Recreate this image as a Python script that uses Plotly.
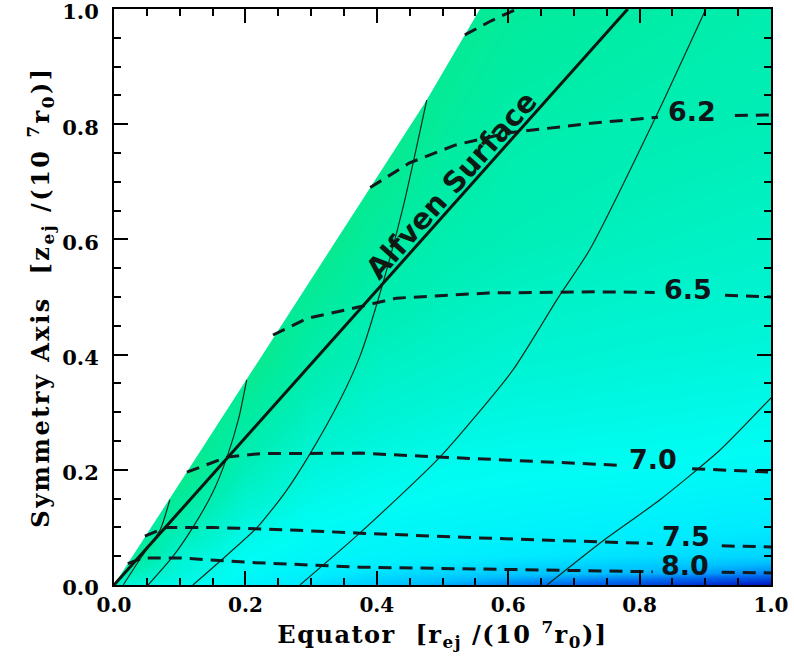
import plotly.graph_objects as go

# ---------------- data ----------------
# colour field (shade index 0..1) on a coarse grid
grid_x = [0.0, 0.1, 0.2, 0.3, 0.4, 0.5, 0.6, 0.8, 1.0]
grid_z = [0.0, 0.02, 0.05, 0.1, 0.2, 0.4, 0.6, 0.8, 1.0]
shade = [
    [0.50, 0.58, 0.66, 0.72, 0.76, 0.80, 0.84, 0.92, 1.00],
    [0.30, 0.52, 0.63, 0.68, 0.72, 0.74, 0.76, 0.79, 0.84],
    [0.00, 0.48, 0.61, 0.65, 0.66, 0.68, 0.70, 0.72, 0.74],
    [0.00, 0.30, 0.55, 0.62, 0.64, 0.65, 0.66, 0.68, 0.70],
    [0.00, 0.00, 0.35, 0.52, 0.57, 0.60, 0.61, 0.62, 0.64],
    [0.00, 0.00, 0.00, 0.25, 0.38, 0.43, 0.47, 0.50, 0.52],
    [0.00, 0.00, 0.00, 0.00, 0.18, 0.28, 0.33, 0.38, 0.42],
    [0.00, 0.00, 0.00, 0.00, 0.00, 0.15, 0.25, 0.30, 0.33],
    [0.00, 0.00, 0.00, 0.00, 0.00, 0.05, 0.15, 0.22, 0.28],
]

# edge of the computed domain (wedge)
edge_x = [0.0, 0.476, 0.557]
edge_z = [0.0, 0.842, 1.0]

# Alfven surface
alfven_x = [0.0, 0.782]
alfven_z = [0.0, 1.0]

# thin solid (field) lines
field_lines = [
    ([0.014, 0.042, 0.070, 0.085], [0.0, 0.049, 0.095, 0.148]),
    ([0.052, 0.09, 0.12, 0.15, 0.172, 0.19, 0.202], [0.0, 0.05, 0.10, 0.16, 0.222, 0.29, 0.356]),
    ([0.12, 0.17, 0.218, 0.26, 0.299, 0.344, 0.374, 0.405, 0.44, 0.476],
     [0.0, 0.05, 0.10, 0.16, 0.229, 0.321, 0.396, 0.507, 0.656, 0.842]),
    ([0.283, 0.374, 0.496, 0.607, 0.674, 0.724, 0.826, 0.90],
     [0.0, 0.09, 0.222, 0.373, 0.495, 0.582, 0.816, 0.998]),
    ([0.659, 0.74, 0.831, 0.922, 1.0], [0.0, 0.073, 0.148, 0.234, 0.325]),
]

# dashed contours: (label, x, z) ; None marks the gap for the label
contour_levels = ["6.0", "6.2", "6.5", "7.0", "7.5", "8.0"]
contour_x = [
    [0.534, 0.575, 0.613],
    [0.39, 0.45, 0.52, 0.60, 0.73, 0.828, None, 0.945, 1.0],
    [0.242, 0.294, 0.374, 0.43, 0.57, 0.735, 0.823, None, 0.93, 1.0],
    [0.111, 0.172, 0.222, 0.374, 0.50, 0.735, 0.767, None, 0.88, 1.0],
    [0.047, 0.08, 0.15, 0.28, 0.374, 0.55, 0.735, 0.82, None, 0.925, 1.0],
    [0.021, 0.044, 0.10, 0.21, 0.374, 0.735, 0.82, None, 0.925, 1.0],
]
contour_z = [
    [0.955, 0.98, 1.0],
    [0.69, 0.733, 0.764, 0.785, 0.802, 0.812, None, 0.815, 0.816],
    [0.434, 0.463, 0.483, 0.498, 0.507, 0.509, 0.508, None, 0.503, 0.50],
    [0.196, 0.222, 0.228, 0.229, 0.222, 0.21, 0.208, None, 0.202, 0.196],
    [0.085, 0.10, 0.10, 0.095, 0.09, 0.082, 0.075, 0.072, None, 0.068, 0.066],
    [0.037, 0.047, 0.047, 0.039, 0.031, 0.024, 0.023, None, 0.022, 0.021],
]
label_x = [None, 0.879, 0.874, 0.821, 0.871, 0.869]
label_z = [None, 0.818, 0.51, 0.214, 0.08, 0.030]

alfven_label = "Alfven Surface"
alfven_label_pos = (0.514, 0.694)

x_ticks = [0.0, 0.2, 0.4, 0.6, 0.8, 1.0]
y_ticks = [0.0, 0.2, 0.4, 0.6, 0.8, 1.0]

x_title = "Equator  [r<sub>ej</sub> /(10 <sup>7</sup>r<sub>0</sub>)]"
y_title = "Symmetry Axis  [z<sub>ej</sub> /(10 <sup>7</sup>r<sub>0</sub>)]"

# ---------------- figure ----------------
colorscale = [
    [0.00, "rgb(12,232,134)"],
    [0.20, "rgb(0,236,162)"],
    [0.35, "rgb(0,239,186)"],
    [0.50, "rgb(0,245,215)"],
    [0.62, "rgb(0,252,245)"],
    [0.70, "rgb(0,235,255)"],
    [0.78, "rgb(0,190,255)"],
    [0.86, "rgb(0,110,240)"],
    [1.00, "rgb(0,15,195)"],
]

fig = go.Figure()

fig.add_trace(go.Heatmap(x=grid_x, y=grid_z, z=shade, zmin=0, zmax=1,
                         colorscale=colorscale, zsmooth="best", showscale=False,
                         hoverinfo="skip"))

# white mask outside the wedge
mask_x = edge_x + [edge_x[-1], -0.05, -0.05]
mask_z = edge_z + [1.05, 1.05, edge_z[0]]
fig.add_trace(go.Scatter(x=mask_x, y=mask_z, fill="toself", fillcolor="white",
                         mode="none", hoverinfo="skip", showlegend=False))

for fx, fz in field_lines:
    fig.add_trace(go.Scatter(x=fx, y=fz, mode="lines",
                             line=dict(color="rgb(12,45,30)", width=1.2, shape="spline",
                                       smoothing=0.6),
                             hoverinfo="skip", showlegend=False))

for cx, cz in zip(contour_x, contour_z):
    fig.add_trace(go.Scatter(x=cx, y=cz, mode="lines", connectgaps=False,
                             line=dict(color="rgb(20,25,30)", width=3, dash="13px,8px"),
                             hoverinfo="skip", showlegend=False))

fig.add_trace(go.Scatter(x=alfven_x, y=alfven_z, mode="lines",
                         line=dict(color="rgb(10,25,15)", width=3),
                         hoverinfo="skip", showlegend=False))

for lab, lx, lz in zip(contour_levels, label_x, label_z):
    if lx is None:
        continue
    fig.add_annotation(x=lx, y=lz, text=lab, showarrow=False, yshift=2,
                       font=dict(family="DejaVu Sans", size=27, color="rgb(15,20,25)",
                                 weight="bold"),
                       xanchor="center", yanchor="middle")

fig.add_annotation(x=alfven_label_pos[0], y=alfven_label_pos[1], text=alfven_label,
                   showarrow=False, textangle=-48.3,
                   font=dict(family="DejaVu Sans", size=29, color="rgb(15,25,20)",
                             weight="bold"))

axis_common = dict(
    range=[0, 1], showgrid=False, zeroline=False, automargin=False,
    showline=True, linecolor="black", linewidth=2, mirror="ticks",
    ticks="inside", ticklen=14, tickwidth=2, tickcolor="black",
    minor=dict(dtick=0.05, ticks="inside", ticklen=7, tickwidth=2, tickcolor="black"),
    tickformat=".1f", ticklabeloverflow="allow",
)

fig.update_xaxes(**axis_common, tickvals=x_ticks,
                 tickfont=dict(family="DejaVu Serif", size=20, color="black", weight="bold"),
                 ticklabelstandoff=1,
                 title=dict(text='<span style="letter-spacing:1.5px">' + x_title + "</span>",
                            font=dict(family="DejaVu Serif", size=24, color="black", weight="bold"),
                            standoff=4))
fig.update_yaxes(**axis_common, tickvals=y_ticks,
                 tickfont=dict(family="DejaVu Serif", size=21, color="black", weight="bold"),
                 ticklabelstandoff=9, ticklabelshift=3,
                 title=dict(text='<span style="letter-spacing:2.5px">' + y_title + "</span>",
                            font=dict(family="DejaVu Serif", size=24, color="black", weight="bold"),
                            standoff=6))

fig.update_layout(width=794, height=663, paper_bgcolor="white", plot_bgcolor="white",
                  margin=dict(l=114, r=23, t=9, b=78), showlegend=False)

fig.write_html("out.html")
